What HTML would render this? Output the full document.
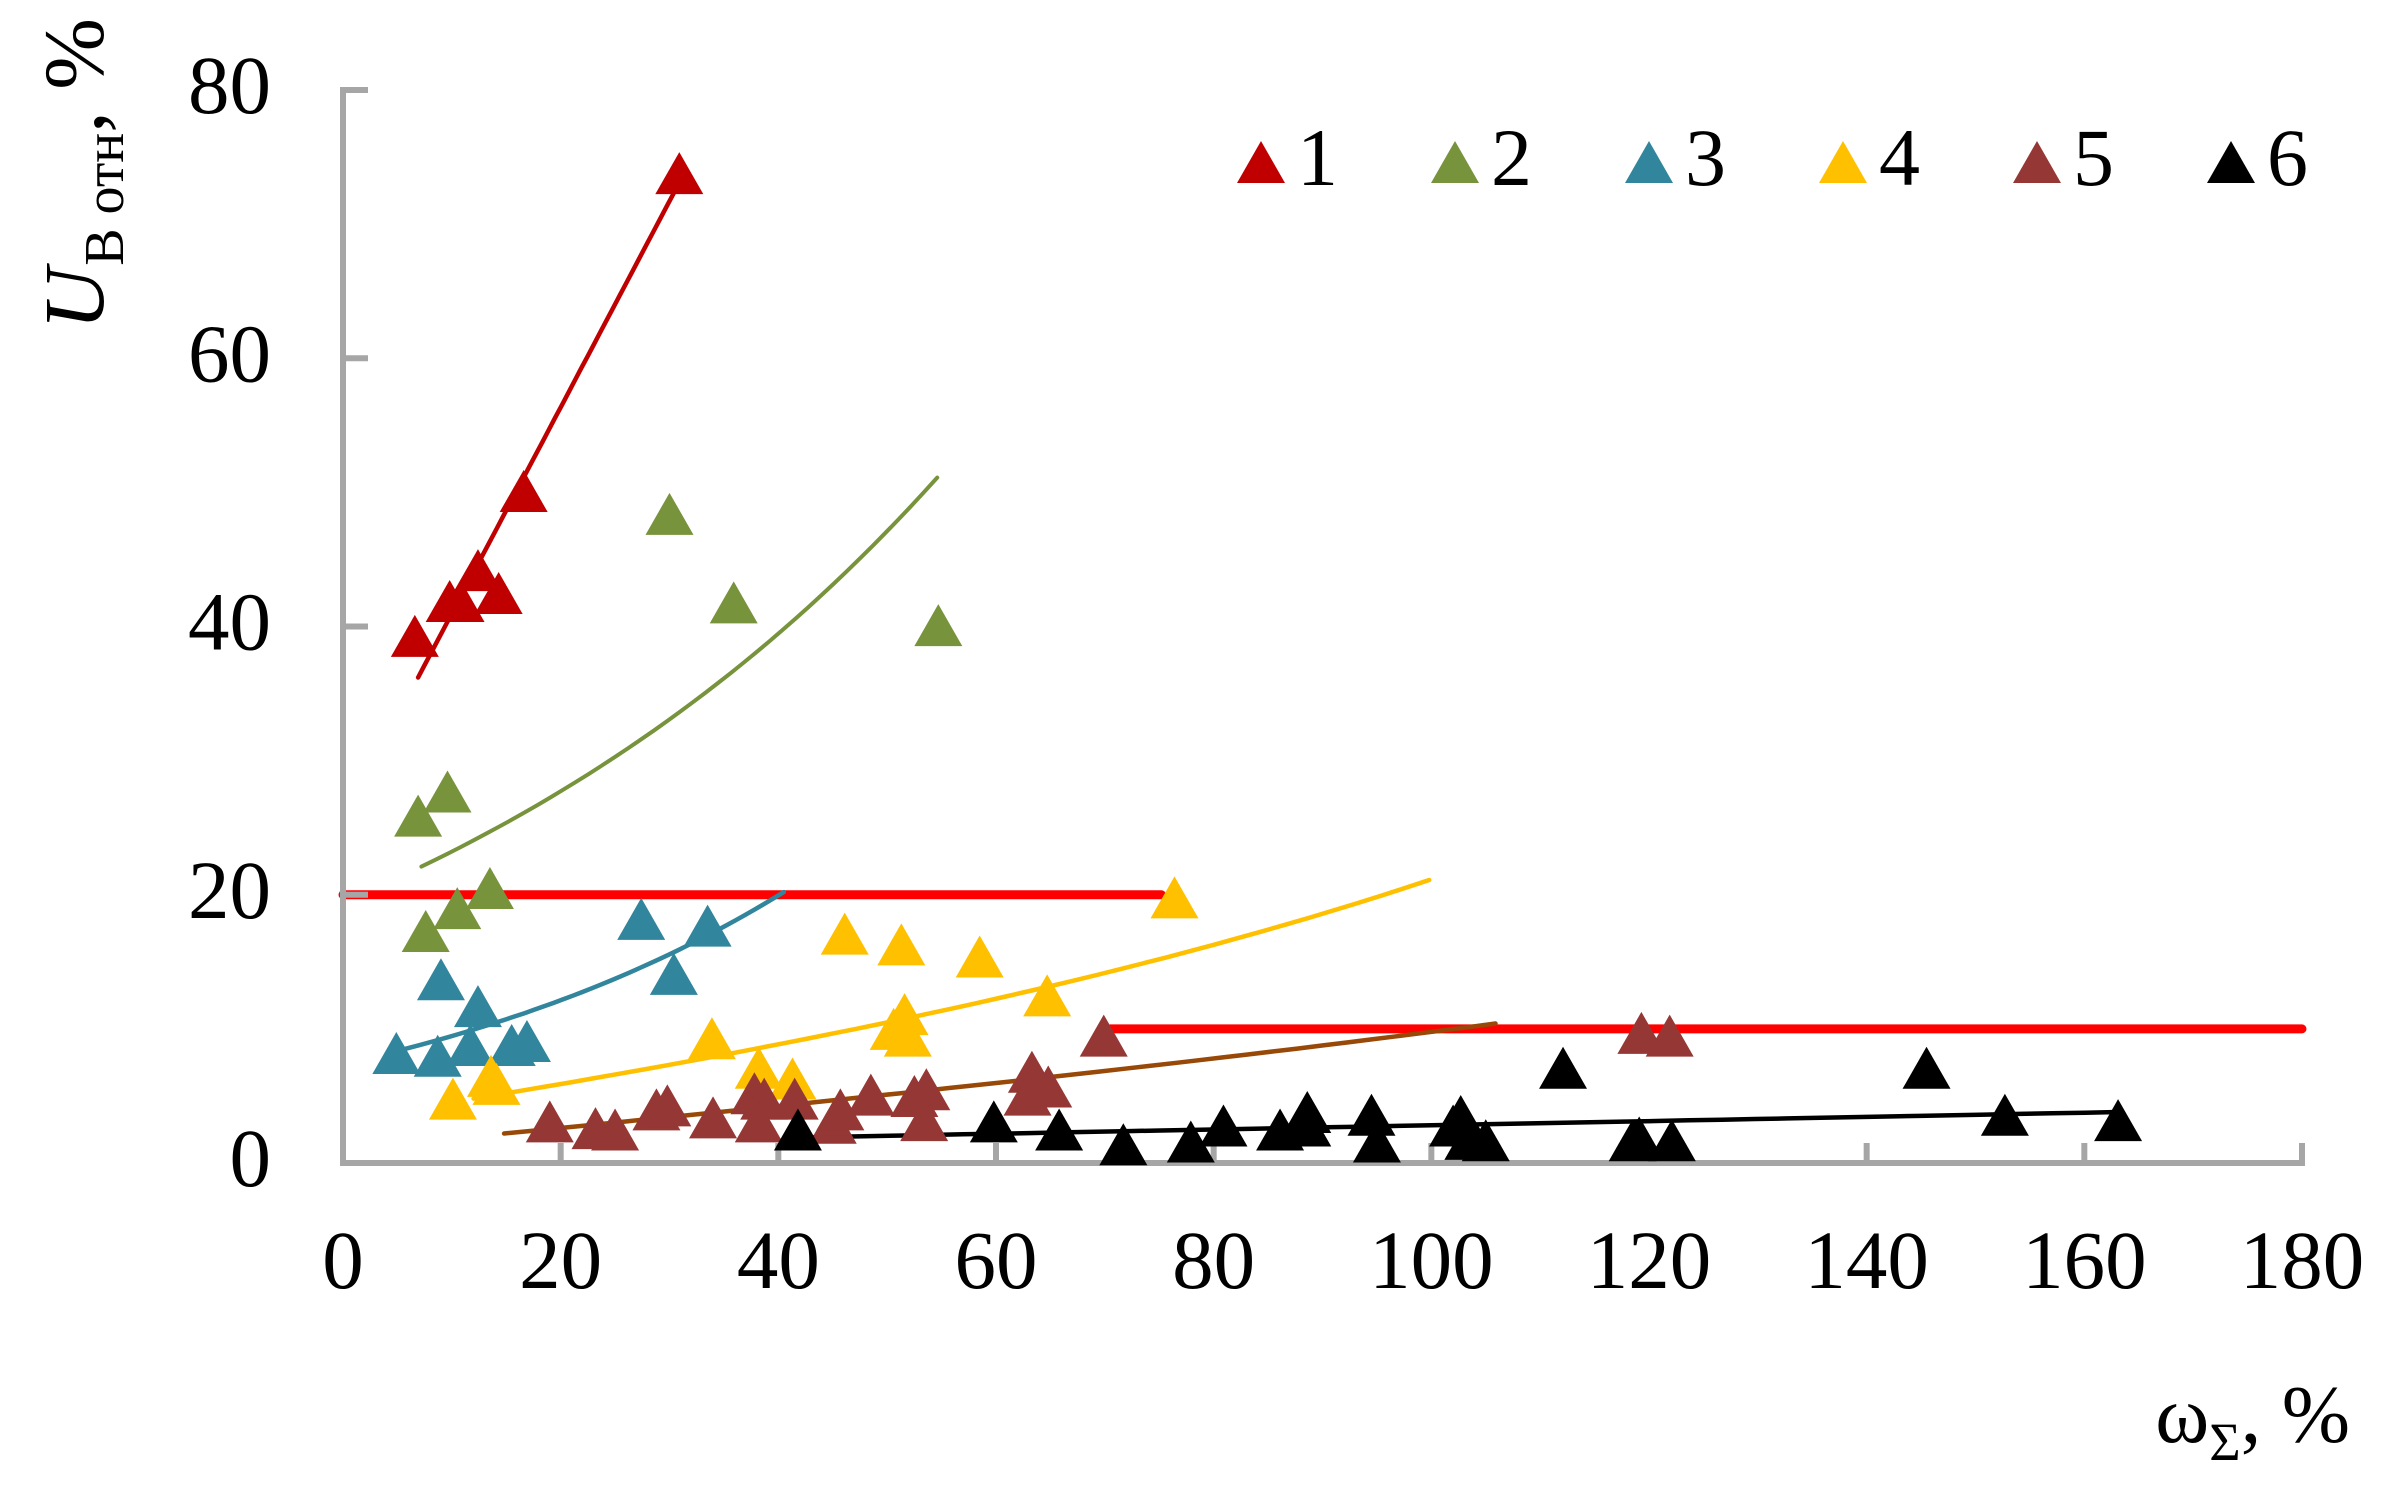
<!DOCTYPE html>
<html><head><meta charset="utf-8"><style>
html,body{margin:0;padding:0;background:#fff;}
svg{display:block;font-family:"Liberation Serif","Times New Roman",serif;}
</style></head><body>
<svg id="chart" width="2401" height="1491" viewBox="0 0 2401 1491" xmlns="http://www.w3.org/2000/svg">
<g id="grid-layer"></g>
<g id="axes"></g>
<g id="trends"></g>
<g id="marks"></g>
<g id="legend"></g>
<text transform="translate(103,174) rotate(-90)" text-anchor="middle" font-size="86"><tspan font-style="italic">U</tspan><tspan font-size="56" dx="2" baseline-shift="-20">В отн</tspan><tspan>, %</tspan></text>
<text x="2350" y="1442" text-anchor="end" font-size="82">ω<tspan font-size="54" baseline-shift="-18">Σ</tspan>, %</text>
</svg>
<script>
const xTicks=[0,20,40,60,80,100,120,140,160,180];
const yTicks=[0,20,40,60,80];
const seriesNames=["1","2","3","4","5","6"];
const seriesColors=["#C00000","#77933C","#31859C","#FFC000","#953735","#000000"];
const trendColors=["#C00000","#77933C","#31859C","#FFC000","#984807","#000000"];
const s1x=[6.6,9.8,10.8,12.4,14.3,16.6,30.9];
const s1y=[39.3,41.9,41.9,44.2,42.5,50.1,73.8];
const s2x=[6.9,9.6,7.6,10.5,13.5,30.0,35.9,54.7];
const s2y=[25.9,27.7,17.3,19.0,20.5,48.4,41.8,40.1];
const s3x=[4.9,9.0,8.7,12.4,11.7,15.5,16.9,27.4,33.5,30.4];
const s3y=[8.2,13.7,8.0,11.7,8.8,8.8,9.1,18.2,17.7,14.1];
const s4x=[10.1,13.6,14.1,33.9,38.2,41.3,46.1,51.3,50.6,51.6,51.9,58.5,64.7,76.4];
const s4y=[4.8,6.5,5.9,9.3,7.1,6.3,17.1,16.3,10.0,11.1,9.5,15.4,12.5,19.8];
const s5x=[19.0,23.2,25.0,28.8,29.8,34.0,37.8,38.7,38.2,41.5,45,45.7,48.5,52.5,53.6,53.4,63.3,64.8,62.9,69.9,119.3,121.9];
const s5y=[3.1,2.6,2.5,4.0,4.3,3.4,5.2,4.8,3.1,4.8,3.0,4.0,5.1,5.0,5.5,3.2,6.8,5.7,5.1,9.5,9.7,9.5];
const s6x=[41.8,59.8,65.8,71.7,77.9,80.9,86.1,88.6,88.6,94.5,95,102,102.7,103.4,105,112.1,118.5,119.1,122.1,145.5,152.7,163.1];
const s6y=[2.5,3.1,2.5,1.4,1.6,2.8,2.5,3.8,2.8,3.6,1.6,2.8,3.5,1.8,1.7,7.1,1.7,1.9,1.7,7.1,3.6,3.2];
const trendX0=[6.9,7.2,5.2,12,14.8,41.8];
const trendX1=[30.9,54.6,40.5,99.8,105.9,163.1];
const trendY0=[36.2,22.1,8.4,4.8,2.2,1.9];
const trendY1=[73.1,51.1,20.2,21.1,10.4,3.8];
const trendKind=["lin","exp","exp","mix","mix2","lin"];
const limY=[20,10];
const limX0=[0,70.5];
const limX1=[75.2,180];

const SX=[s1x,s2x,s3x,s4x,s5x,s6x], SY=[s1y,s2y,s3y,s4y,s5y,s6y];
const NS="http://www.w3.org/2000/svg";
function X(v){return 343+v*(2302-343)/180;}
function Y(v){return 1163-v*(1163-90)/80;}
function mk(t,a,p){const e=document.createElementNS(NS,t);for(const k in a)e.setAttribute(k,a[k]);p.appendChild(e);return e;}
const axes=document.getElementById('axes');
const AX="#A6A6A6";
let e=mk('line',{x1:X(0),y1:Y(0),x2:X(0),y2:Y(80)-3,stroke:AX,'stroke-width':6},axes);


e=mk('line',{x1:X(0)-3,y1:Y(0),x2:X(180)+3,y2:Y(0),stroke:AX,'stroke-width':6},axes);


yTicks.forEach(v=>{
  let t=mk('line',{x1:X(0),y1:Y(v),x2:X(0)+25,y2:Y(v),stroke:AX,'stroke-width':6},axes);
  
  
  let l=mk('text',{x:271,y:Y(v)+23,'text-anchor':'end','font-size':83},axes);
  l.textContent=v;
  
  
});
xTicks.forEach(v=>{
  let t=mk('line',{x1:X(v),y1:Y(0),x2:X(v),y2:Y(0)-20,stroke:AX,'stroke-width':6},axes);
  
  
  let l=mk('text',{x:X(v),y:1288,'text-anchor':'middle','font-size':83},axes);
  l.textContent=v;
  
  
});
const gl=document.getElementById('grid-layer');
limY.forEach((v,i)=>{
  let l=mk('line',{x1:X(limX0[i]),y1:Y(v),x2:X(limX1[i]),y2:Y(v),stroke:'#FF0000','stroke-width':9,'stroke-linecap':'round'},gl);
  
  
});
const tr=document.getElementById('trends');
trendX0.forEach((x0,i)=>{
  const x1=trendX1[i],y0=trendY0[i],y1=trendY1[i];
  let pts=[];
  for(let k=0;k<=40;k++){
    const f=k/40,x=x0+(x1-x0)*f;
    const yl=y0+(y1-y0)*f, ye=y0*Math.pow(y1/y0,f);
    let y=ye;
    if(trendKind[i]==="lin")y=yl;
    else if(trendKind[i]==="mix")y=(yl+ye)/2;
    else if(trendKind[i]==="mix2")y=0.8*yl+0.2*ye;
    pts.push(X(x).toFixed(1)+","+Y(y).toFixed(1));
  }
  let p=mk('polyline',{points:pts.join(" "),fill:'none',stroke:trendColors[i],'stroke-width':i===1?4:4.5,'stroke-linecap':'round'},tr);
  
  
});
function tri(cx,cy,c,par){
  const w=24,h=42;
  return mk('polygon',{points:`${cx-w},${cy+h/2} ${cx+w},${cy+h/2} ${cx},${cy-h/2}`,fill:c},par);
}
const mg=document.getElementById('marks');
SX.forEach((xs,i)=>{
  xs.forEach((x,j)=>{
    let t=tri(X(x),Y(SY[i][j]),seriesColors[i],mg);
    
    
  });
});
const lg=document.getElementById('legend');
seriesNames.forEach((n,i)=>{
  const cx=1261+i*194;
  let t=tri(cx,162,seriesColors[i],lg);
  
  
  let l=mk('text',{x:cx+36,y:185,'font-size':82},lg);
  l.textContent=n;
  
  
});
</script>
</body></html>
